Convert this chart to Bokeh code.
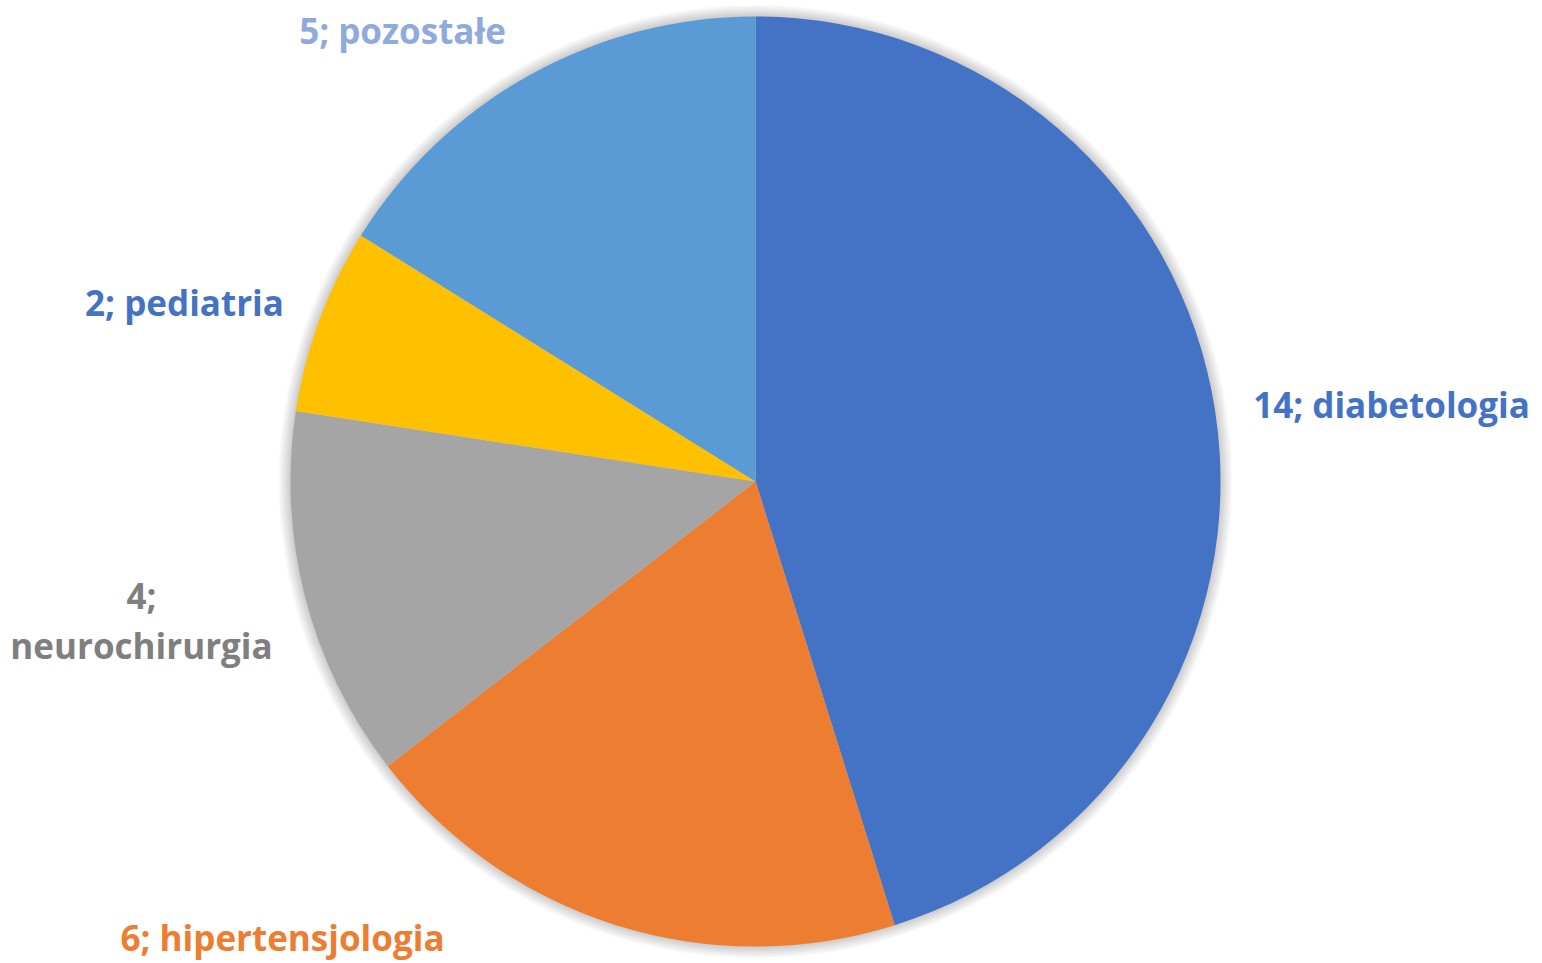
import math
from bokeh.plotting import figure
from bokeh.models import Range1d, ColumnDataSource
from bokeh.core.properties import value
from bokeh.embed import file_html
from bokeh.resources import INLINE

# ---- data ----
categories = ["diabetologia", "hipertensjologia", "neurochirurgia", "pediatria", "pozostałe"]
values = [14, 6, 4, 2, 5]
slice_colors = ["#4472C4", "#ED7D31", "#A5A5A5", "#FFC000", "#5B9BD5"]
label_colors = ["#4472C4", "#ED7D31", "#7F7F7F", "#4472C4", "#8FAADC"]
label_wrap = [False, False, True, False, False]

# ---- layout (pixel coordinates, y measured from top) ----
W, H = 1542, 963
CX, CY, R = 755, 481, 465
# positions for each label line
label_pos = [
    [(1391, 404)],
    [(282, 937)],
    [(141, 595), (141, 645)],
    [(184, 302)],
    [(402, 30)],
]

p = figure(width=W, height=H, x_range=Range1d(0, W), y_range=Range1d(0, H),
           output_backend="svg", toolbar_location=None, min_border=0)
p.axis.visible = False
p.grid.visible = False
p.outline_line_color = None
p.background_fill_color = "white"
p.border_fill_color = "white"

def fy(y):
    return H - y

# soft shadow
for i in range(10, 0, -1):
    p.circle(x=[CX], y=[fy(CY)], radius=R + i * 1.2, fill_color="black",
             fill_alpha=0.018, line_color=None)

total = sum(values)
starts, ends = [], []
cum = 0
for v in values:
    starts.append(math.pi / 2 - 2 * math.pi * cum / total)
    cum += v
    ends.append(math.pi / 2 - 2 * math.pi * cum / total)

src = ColumnDataSource(dict(start=starts, end=ends, color=slice_colors,
                            x=[CX] * len(values), y=[fy(CY)] * len(values)))
p.wedge(x="x", y="y", radius=R, start_angle="start", end_angle="end",
        direction="clock", fill_color="color", line_color=None, source=src)

tx, ty, tt, tc = [], [], [], []
for c, v, col, wrap, pos in zip(categories, values, label_colors, label_wrap, label_pos):
    lines = [f"{v};", c] if wrap else [f"{v}; {c}"]
    for line, (x, y) in zip(lines, pos):
        tx.append(x); ty.append(fy(y)); tt.append(line); tc.append(col)

lsrc = ColumnDataSource(dict(x=tx, y=ty, text=tt, color=tc))
p.text(x="x", y="y", text="text", text_color="color", source=lsrc,
       text_font=value("Open Sans"), text_font_style="bold", text_font_size="35px",
       text_align="center", text_baseline="middle")

open("out.html", "w").write(file_html(p, INLINE))
